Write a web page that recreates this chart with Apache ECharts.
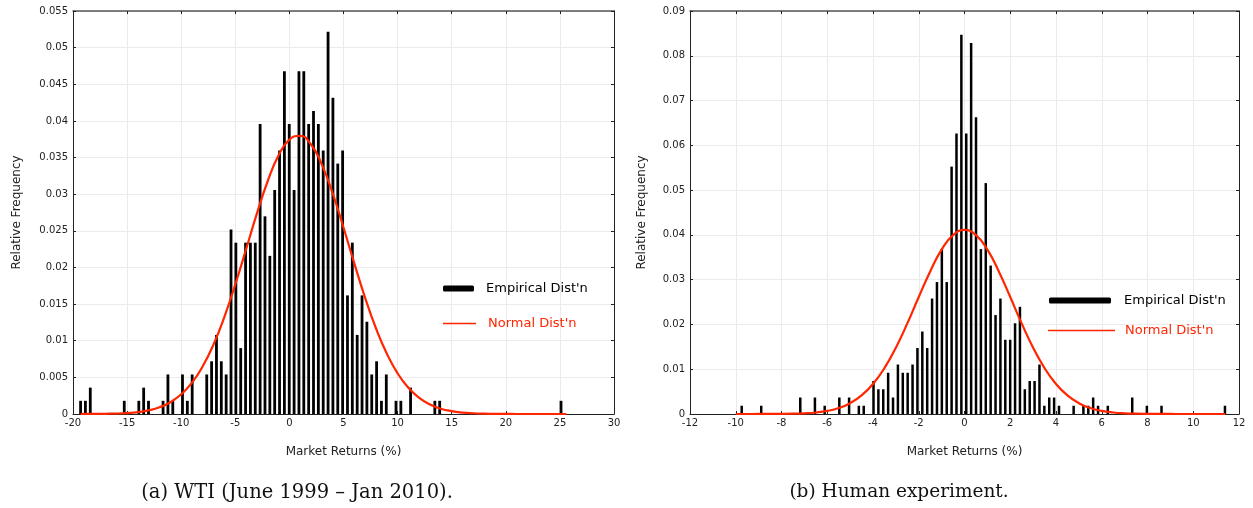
<!DOCTYPE html>
<html><head><meta charset="utf-8">
<script src="https://cdn.jsdelivr.net/npm/echarts/dist/echarts.min.js"></script>
<style>html,body{margin:0;padding:0;background:#fff}#c{width:1253px;height:508px}</style>
</head><body><div id="c"></div>
<script>
// ---- Panel (a): WTI weekly returns histogram (100 bins) ----
const wtiBinStart = -19.3;      // centre of first bin (%)
const wtiBinWidth = 0.4485;     // bin width (%)
const wtiTotal = 556;           // number of observations
const wtiCounts = [
  1,1,2,0,0,0,0,0,0,1,
  0,0,1,2,1,0,0,1,3,1,
  0,3,1,3,0,0,3,4,6,4,
  3,14,13,5,13,13,13,22,15,12,
  17,20,26,22,17,26,26,22,23,22,
  20,29,24,19,20,9,13,6,9,7,
  3,4,1,3,0,1,1,0,2,0,
  0,0,0,1,1,0,0,0,0,0,
  0,0,0,0,0,0,0,0,0,0,
  0,0,0,0,0,0,0,0,0,1
];
const wtiNormalX = [-19.3,-19,-18,-17,-16,-15,-14,-13,-12,-11,-10,-9,-8,-7,-6,-5,-4,-3,-2,-1,0,1,2,3,4,5,6,7,8,9,10,11,12,13,14,15,16,17,18,19,20,21,22,23,24,25,25.6];
const wtiNormalY = [0,0.000005,0.00001,0.00003,0.00006,0.00013,0.00026,0.0005,0.00092,0.00161,0.00269,0.00428,0.00654,0.00953,0.01329,0.01769,0.02251,0.02737,0.0318,0.0353,0.03745,0.03797,0.03678,0.03404,0.03011,0.02545,0.02055,0.01586,0.0117,0.00825,0.00555,0.00357,0.0022,0.00129,0.00072,0.00039,0.0002,0.0001,0.00005,0.00002,0.00001,0,0,0,0,0,0];

// ---- Panel (b): Human experiment returns histogram (100 bins) ----
const humBinStart = -9.74;
const humBinWidth = 0.2134;
const humTotal = 543;
const humCounts = [
  1,0,0,0,1,0,0,0,0,0,
  0,0,2,0,0,2,0,1,0,0,
  2,0,2,0,1,1,0,4,3,3,
  5,2,6,5,5,6,8,10,8,14,
  16,20,16,30,34,46,34,45,36,20,
  28,18,12,14,9,9,11,13,3,4,
  4,6,1,2,2,1,0,0,1,0,
  1,1,2,1,0,1,0,0,0,0,
  2,0,0,1,0,0,1,0,0,0,
  0,0,0,0,0,0,0,0,0,1
];
const humNormalX = [-10,-9.5,-9,-8.5,-8,-7.5,-7,-6.5,-6,-5.5,-5,-4.5,-4,-3.5,-3,-2.5,-2,-1.5,-1,-0.5,0,0.5,1,1.5,2,2.5,3,3.5,4,4.5,5,5.5,6,6.5,7,7.5,8,8.5,9,9.5,10,10.5,11,11.4];
const humNormalY = [0,0,0.00001,0.00001,0.00003,0.00007,0.00016,0.00034,0.00069,0.00133,0.00242,0.00414,0.0067,0.01025,0.01481,0.02023,0.02612,0.03184,0.03669,0.03995,0.0411,0.03995,0.03669,0.03184,0.02612,0.02023,0.01481,0.01025,0.0067,0.00414,0.00242,0.00133,0.00069,0.00034,0.00016,0.00007,0.00003,0.00001,0.00001,0,0,0,0,0];

const xTitle = 'Market Returns (%)';
const yTitle = 'Relative Frequency';
const empName = "Empirical Dist'n";
const normName = "Normal Dist'n";
const captionA = '(a) WTI (June 1999 \u2013 Jan 2010).';
const captionB = '(b) Human experiment.';

const RED = '#ff2600';
const FONT = 'DejaVu Sans';

function bars(start, width, counts, total) {
  return counts.map((c, i) => [start + i * width, c / total]);
}
function pairs(xs, ys) { return xs.map((x, i) => [x, ys[i]]); }

const gridLine = {show: true, lineStyle: {color: '#ebebeb', width: 1}};
const axLine = {onZero: false, lineStyle: {color: '#222', width: 1}};
const lbl = {fontSize: 10, color: '#222', fontFamily: FONT};

function mainX(grid, min, max, interval) {
  return {type: 'value', gridIndex: grid, min, max, interval, position: 'bottom',
    name: xTitle, nameLocation: 'middle', nameGap: 32,
    nameTextStyle: {fontSize: 12, color: '#222', fontFamily: FONT},
    axisLine: axLine, axisTick: {inside: true, length: 3, lineStyle: {color: '#222'}},
    axisLabel: Object.assign({margin: 4}, lbl), splitLine: gridLine};
}
function topX(grid, min, max, interval) {
  return {type: 'value', gridIndex: grid, min, max, interval, position: 'top',
    axisLine: {onZero: false, lineStyle: {color: '#555', width: 1.5}},
    axisTick: {inside: true, length: 3, lineStyle: {color: '#222'}},
    axisLabel: {show: false}, splitLine: {show: false}};
}
function mainY(grid, max, interval, gap) {
  return {type: 'value', gridIndex: grid, min: 0, max, interval, position: 'left',
    name: yTitle, nameLocation: 'middle', nameGap: gap, nameRotate: 90,
    nameTextStyle: {fontSize: 12, color: '#222', fontFamily: FONT},
    axisLine: Object.assign({show: true}, axLine),
    axisTick: {show: true, inside: true, length: 3, lineStyle: {color: '#222'}},
    axisLabel: Object.assign({margin: 5}, lbl), splitLine: gridLine};
}
function rightY(grid, max, interval) {
  return {type: 'value', gridIndex: grid, min: 0, max, interval, position: 'right',
    axisLine: Object.assign({show: true}, axLine),
    axisTick: {show: true, inside: true, length: 3, lineStyle: {color: '#222'}},
    axisLabel: {show: false}, splitLine: {show: false}};
}
function legend(name, left, top, icon, w, h, color, pad) {
  return {left, top, padding: 0, itemWidth: w, itemHeight: h, selectedMode: false,
    data: [{name, icon, itemStyle: {color}}],
    textStyle: {fontSize: 13, color, fontFamily: FONT, padding: [0, 0, 0, pad]}};
}

const chart = echarts.init(document.getElementById('c'), null, {renderer: 'canvas'});
chart.setOption({
  animation: false,
  backgroundColor: '#fff',
  textStyle: {fontFamily: FONT},
  grid: [
    {left: 73, right: 639, top: 11, bottom: 94},
    {left: 690, right: 14, top: 11, bottom: 94}
  ],
  xAxis: [mainX(0, -20, 30, 5), topX(0, -20, 30, 5), mainX(1, -12, 12, 2), topX(1, -12, 12, 2)],
  yAxis: [mainY(0, 0.055, 0.005, 50), rightY(0, 0.055, 0.005), mainY(1, 0.09, 0.01, 42), rightY(1, 0.09, 0.01)],
  legend: [
    legend(empName, 443, 282, 'roundRect', 31, 6, '#000', 7),
    legend(normName, 443, 317, 'rect', 33, 1.5, RED, 7),
    legend(empName, 1049, 294, 'roundRect', 62, 6, '#000', 8),
    legend(normName, 1048, 324, 'rect', 67, 1.5, RED, 5)
  ],
  title: [
    {text: captionA, left: 292, top: 478, textAlign: 'center',
      textStyle: {fontFamily: 'DejaVu Serif', fontSize: 19.5, fontWeight: 'normal', color: '#111'}},
    {text: captionB, left: 894, top: 478, textAlign: 'center',
      textStyle: {fontFamily: 'DejaVu Serif', fontSize: 18.5, fontWeight: 'normal', color: '#111'}}
  ],
  series: [
    {name: empName, type: 'bar', xAxisIndex: 0, yAxisIndex: 0, barWidth: 2.8,
      itemStyle: {color: '#000'}, data: bars(wtiBinStart, wtiBinWidth, wtiCounts, wtiTotal)},
    {name: normName, type: 'line', xAxisIndex: 0, yAxisIndex: 0, smooth: true, showSymbol: false, z: 5,
      lineStyle: {color: RED, width: 2.2}, itemStyle: {color: RED}, data: pairs(wtiNormalX, wtiNormalY)},
    {name: empName, type: 'bar', xAxisIndex: 2, yAxisIndex: 2, barWidth: 2.5,
      itemStyle: {color: '#000'}, data: bars(humBinStart, humBinWidth, humCounts, humTotal)},
    {name: normName, type: 'line', xAxisIndex: 2, yAxisIndex: 2, smooth: true, showSymbol: false, z: 5,
      lineStyle: {color: RED, width: 2.2}, itemStyle: {color: RED}, data: pairs(humNormalX, humNormalY)}
  ]
});
</script>
</body></html>
